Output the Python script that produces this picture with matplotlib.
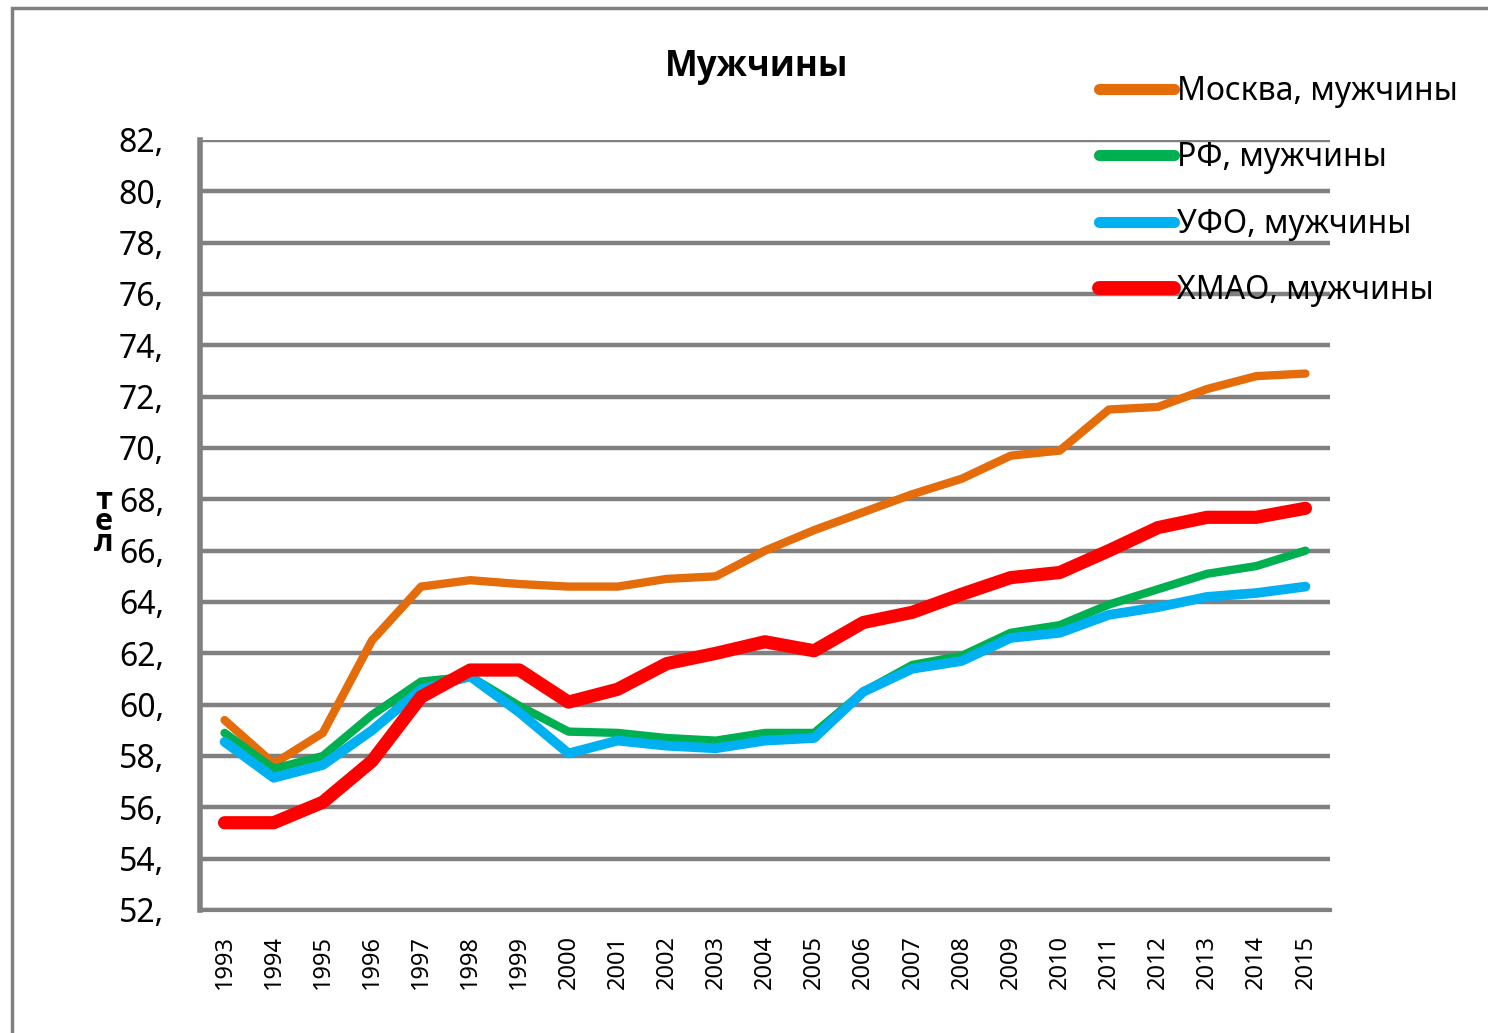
import matplotlib.pyplot as plt
from matplotlib.patches import Rectangle

plt.rcParams['font.family'] = ['Noto Sans', 'DejaVu Sans']

years = [str(y) for y in range(1993, 2016)]
moscow = [59.4, 57.7, 58.9, 62.5, 64.6, 64.85, 64.7, 64.6, 64.6, 64.9, 65.0, 66.0,
          66.8, 67.5, 68.2, 68.8, 69.7, 69.9, 71.5, 71.6, 72.3, 72.8, 72.9]
rf = [58.9, 57.5, 58.0, 59.6, 60.9, 61.1, 59.95, 58.95, 58.9, 58.7, 58.6, 58.9,
      58.9, 60.5, 61.55, 61.9, 62.8, 63.1, 63.9, 64.5, 65.1, 65.4, 66.0]
ufo = [58.55, 57.15, 57.65, 59.0, 60.6, 61.1, 59.7, 58.1, 58.6, 58.4, 58.3, 58.6,
       58.7, 60.5, 61.4, 61.7, 62.6, 62.8, 63.5, 63.8, 64.2, 64.35, 64.6]
hmao = [55.4, 55.4, 56.2, 57.8, 60.3, 61.35, 61.35, 60.1, 60.6, 61.6, 62.0, 62.45,
        62.1, 63.2, 63.6, 64.3, 64.95, 65.15, 66.0, 66.9, 67.3, 67.3, 67.65]
yticks = list(range(52, 83, 2))
ytick_labels = [str(v) + ',' for v in yticks]

fig = plt.figure(figsize=(14.88, 10.33), dpi=100)
ax = fig.add_axes([200/1488, 123/1033, 1130/1488, 770/1033])

x = range(len(years))
kw = dict(solid_capstyle='round', solid_joinstyle='round')
ax.plot(x, moscow, color='#E46C0A', lw=6, label='Москва, мужчины', **kw)
ax.plot(x, rf, color='#00B050', lw=6, label='РФ, мужчины', **kw)
ax.plot(x, ufo, color='#00B0F0', lw=7, label='УФО, мужчины', **kw)
ax.plot(x, hmao, color='#FF0000', lw=9.5, label='ХМАО, мужчины', **kw)

ax.set_xlim(-0.5, len(years) - 0.5)
ax.set_ylim(52, 82)
ax.set_yticks(yticks)
ax.set_yticklabels(ytick_labels, fontsize=23)
ax.set_xticks(list(x))
ax.set_xticklabels(years, rotation=90, fontsize=17)
ax.tick_params(axis='y', length=0, pad=26)
ax.tick_params(axis='x', length=0, pad=18)
ax.grid(axis='y', color='#808080', lw=3.2)
ax.set_axisbelow(True)
for s in ['top', 'right']:
    ax.spines[s].set_visible(False)
ax.spines['left'].set_color('#808080')
ax.spines['left'].set_linewidth(4)
ax.spines['bottom'].set_color('#808080')
ax.spines['bottom'].set_linewidth(3)

fig.text(757/1488, 1 - 67/1033, 'Мужчины', fontsize=25, fontweight='bold',
         family=['Open Sans', 'DejaVu Sans'], ha='center', va='center')
fig.text(104/1488, 1 - 522/1033, 'т\nе\nл', fontsize=22, fontweight='bold',
         family=['Open Sans', 'DejaVu Sans'], ha='center', va='center',
         linespacing=0.6)

leg = fig.legend(loc='upper left', bbox_to_anchor=(1070/1488, 1 - 46/1033),
                 frameon=False, fontsize=23, handlelength=2.35, handletextpad=0.1,
                 labelspacing=1.05)
for ln, w in zip(leg.get_lines(), [8, 8, 8, 10]):
    ln.set_linewidth(w)
    ln.set_solid_capstyle('round')

fig.add_artist(Rectangle((12/1488, -0.1), 1.2, 1 - 8/1033 + 0.1,
                         transform=fig.transFigure, fill=False,
                         edgecolor='#808080', lw=2.5))

plt.savefig('out.png', dpi=100)
